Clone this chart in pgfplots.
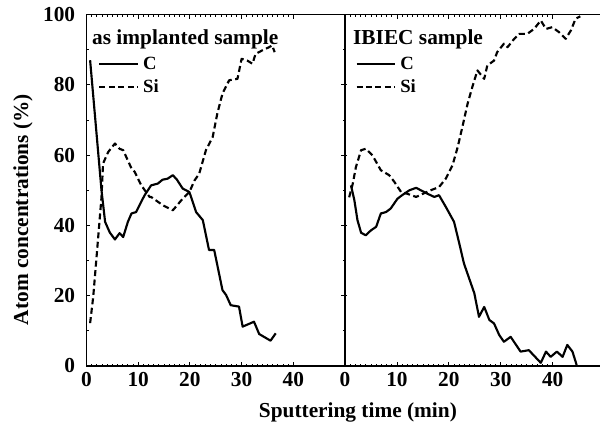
\documentclass[border=0pt]{standalone}
\usepackage{pgfplots}
\pgfplotsset{compat=1.18}
\usepackage{fontspec}
\setmainfont{Liberation Serif}
\newcommand{\bigfont}{\fontsize{16}{19}\selectfont\bfseries}
\newcommand{\legfont}{\fontsize{14}{16}\selectfont\bfseries}
\pgfplotsset{
  panel/.style={
    height=263.6pt, ymin=0, ymax=100,
    scale only axis,
    clip mode=individual,
    axis line style={line width=0.8pt},
    tick align=inside,
    major tick length=3pt, minor tick length=1.6pt,
    every tick/.style={black, line width=0.6pt},
    xtick={0,10,20,30,40},
    minor x tick num=9,
    ytick={0,20,40,60,80,100},
    minor y tick num=1,
    ticklabel style={font=\bigfont},
    xticklabel style={yshift=-1.5pt},
    /pgf/number format/assume math mode=true,
    legend cell align=left,
    legend style={draw=none, fill=none, font=\legfont, row sep=0pt,
      inner sep=0pt, nodes={inner sep=3pt}},
    legend image code/.code={\draw[#1] (0pt,0pt) -- (29pt,0pt);},
  },
  cline/.style={black, line width=1.6pt, line join=round},
  sline/.style={black, line width=1.6pt, dash pattern=on 4.5pt off 2.6pt, line join=round},
}
\begin{document}
\begin{tikzpicture}
\begin{axis}[panel, name=leftax, width=193.875pt, xmin=0, xmax=50,
  yticklabel style={xshift=-5pt},
  legend style={at={(rel axis cs:0.045,0.892)}, anchor=north west}]
\addplot[cline] coordinates {
(0.7,87) (2.9,50) (3.6,41) (4.5,38) (5.5,36) (6.4,37.8) (7.1,36.7) (8.0,41)
(8.7,43.4) (9.6,43.8) (10.5,46.5) (11.25,48.6) (12.5,51.4) (13.8,51.9) (14.7,53)
(15.7,53.3) (16.7,54.3) (17.5,53) (18.6,50.5) (19.9,49.5) (21.2,43.8) (22.5,41.5)
(23.7,33) (24.7,33) (26.3,21.6) (27.0,20.2) (27.9,17.3) (29.5,16.9) (30.2,11.2)
(32.4,12.6) (33.4,9.1) (35.6,7.2) (36.6,9.3)};
\addlegendentry{C}
\addplot[sline] coordinates {
(0.7,12.2) (1.3,19.7) (2.0,32) (2.9,48) (3.2,57.6) (4.2,60.9) (5.5,63.3) (6.4,61.8)
(7.1,61.4) (8.7,56.2) (9.3,55.3) (10.6,51.4) (12.2,48.1) (12.5,48.1) (14.8,45.7)
(16.7,44.3) (18.6,47.6) (19.9,49.5) (20.9,52.8) (21.8,54.7) (23.1,61.4) (24.4,65.1)
(25.3,71.8) (26.3,77.5) (27.6,81.3) (29.2,81.7) (30.0,87.4) (31.1,86.9) (32.1,86)
(32.7,88.8) (34.0,89.8) (35.3,90.7) (35.9,91.2) (36.4,89.3)};
\addlegendentry{Si}
\node[anchor=base west, font=\bigfont, inner sep=0pt] at (rel axis cs:0.021,0.916) {as implanted sample};
\node[rotate=90, font=\bigfont, anchor=center] at ([xshift=-47.6pt]rel axis cs:0,0.445) {Atom concentrations (\%)};
\node[anchor=base, font=\bigfont, inner sep=0pt] at ([yshift=-38.5pt]rel axis cs:1.05,0) {Sputtering time (min)};
\end{axis}
\begin{axis}[panel, at={(193.875pt,0pt)}, width=191.25pt, xmin=0, xmax=49.1,
  yticklabels={},
  axis x line*=box, axis y line*=left, y axis line style={-},
  ytick align=center,
  legend style={at={(rel axis cs:0.04,0.892)}, anchor=north west}]
\addplot[cline] coordinates {
(1.15,51.4) (1.8,47.2) (2.4,41.5) (3.1,37.9) (4.0,37.2) (5.0,38.6) (6.0,39.6)
(6.9,43.4) (7.9,43.8) (8.8,44.8) (10.1,47.6) (11.0,48.6) (12.4,50) (13.7,50.7)
(14.6,50) (15.9,49) (17.2,48.1) (18.1,48.6) (19.4,45.3) (21.0,41) (22.0,34.9)
(22.9,29.2) (24.9,20.7) (25.8,14) (26.8,16.8) (27.8,13.1) (28.7,12.1) (29.7,8.8)
(30.6,6.9) (31.9,8.3) (33.8,4.1) (35.4,4.5) (37.7,0.9) (38.7,4.1) (39.6,2.6)
(40.8,4.1) (41.9,2.6) (42.8,6) (43.8,4.1) (44.6,0.3)};
\addlegendentry{C}
\addplot[sline] coordinates {
(0.8,48) (1.5,51.9) (2.1,56.6) (3.1,61.4) (4.0,61.8) (5.3,59.9) (6.9,55.7)
(8.5,54.3) (9.5,52.4) (10.8,49.5) (12.0,49) (13.7,48.1) (15.0,49) (16.5,50)
(18.1,50.9) (19.4,53.3) (20.7,57.1) (21.7,62.3) (22.6,68) (23.6,74.6) (24.6,79.8)
(25.5,84.1) (26.8,81.7) (27.4,85.5) (28.7,86.9) (29.3,89.3) (30.6,91.7) (31.3,90.7)
(32.3,92.6) (33.5,94.5) (35.1,94.5) (36.4,95.9) (37.7,98.3) (38.7,95.9) (39.9,96.4)
(41.2,95) (42.5,93.1) (43.5,95.5) (44.4,98.8) (45.3,99.5)};
\addlegendentry{Si}
\node[anchor=base west, font=\bigfont, inner sep=0pt] at (rel axis cs:0.031,0.916) {IBIEC sample};
\end{axis}
\pgfresetboundingbox
\path[use as bounding box] (-64.875pt,-50.25pt) rectangle (385.125pt,274.5pt);
\end{tikzpicture}
\end{document}
